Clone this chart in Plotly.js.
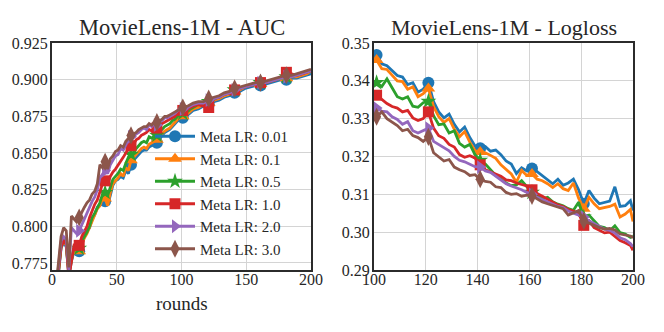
<!DOCTYPE html>
<html>
<head>
<meta charset="utf-8">
<script src="https://cdn.plot.ly/plotly-3.0.1.min.js"></script>
<style>
  html, body { margin: 0; padding: 0; background: #fff; }
  #chart { width: 664px; height: 332px; }
  svg text { font-family: "Liberation Serif", serif !important; }
</style>
</head>
<body>
<div id="chart"></div>
<script>
// rounds: every 2 rounds up to 99, then every 4, then the last one
const aucRounds = [];
for (let r = 1; r < 100; r += 2) aucRounds.push(r);
for (let r = 101; r < 200; r += 4) aucRounds.push(r);
aucRounds.push(200);

const lossRounds = [];
for (let r = 101; r < 200; r += 2) lossRounds.push(r);
lossRounds.push(200);

const seriesNames = ['Meta LR: 0.01', 'Meta LR: 0.1', 'Meta LR: 0.5', 'Meta LR: 1.0', 'Meta LR: 2.0', 'Meta LR: 3.0'];

// AUC
const aucLr001 = [
  0.733, 0.751, 0.770, 0.785, 0.789, 0.786, 0.766, 0.776, 0.783, 0.782,
  0.783, 0.787, 0.793, 0.797, 0.799, 0.805, 0.808, 0.813, 0.815, 0.817,
  0.817, 0.815, 0.821, 0.828, 0.831, 0.832, 0.834, 0.833, 0.838, 0.836,
  0.842, 0.845, 0.847, 0.849, 0.851, 0.852, 0.852, 0.854, 0.855, 0.856,
  0.857, 0.859, 0.862, 0.864, 0.865, 0.866, 0.868, 0.870, 0.872, 0.873,
  0.874, 0.876, 0.879, 0.880, 0.882, 0.883, 0.885, 0.886, 0.888, 0.889,
  0.891, 0.892, 0.894, 0.895, 0.896, 0.896, 0.897, 0.898, 0.899, 0.900,
  0.900, 0.901, 0.901, 0.902, 0.903, 0.904];
const aucLr01 = [
  0.734, 0.752, 0.771, 0.786, 0.790, 0.787, 0.767, 0.777, 0.784, 0.783,
  0.783, 0.788, 0.792, 0.795, 0.799, 0.804, 0.807, 0.812, 0.814, 0.819,
  0.819, 0.814, 0.823, 0.829, 0.831, 0.833, 0.836, 0.834, 0.840, 0.838,
  0.845, 0.847, 0.849, 0.851, 0.853, 0.854, 0.853, 0.856, 0.857, 0.858,
  0.859, 0.861, 0.863, 0.865, 0.866, 0.867, 0.869, 0.871, 0.873, 0.874,
  0.875, 0.877, 0.880, 0.881, 0.883, 0.884, 0.886, 0.887, 0.889, 0.890,
  0.892, 0.893, 0.895, 0.896, 0.897, 0.897, 0.898, 0.899, 0.900, 0.901,
  0.901, 0.902, 0.902, 0.903, 0.904, 0.906];
const aucLr05 = [
  0.735, 0.753, 0.772, 0.787, 0.791, 0.788, 0.768, 0.778, 0.786, 0.784,
  0.785, 0.790, 0.793, 0.796, 0.800, 0.806, 0.809, 0.813, 0.816, 0.822,
  0.823, 0.821, 0.827, 0.832, 0.834, 0.836, 0.839, 0.838, 0.843, 0.847,
  0.849, 0.850, 0.853, 0.855, 0.857, 0.858, 0.857, 0.861, 0.860, 0.862,
  0.862, 0.865, 0.866, 0.868, 0.869, 0.870, 0.872, 0.873, 0.875, 0.876,
  0.877, 0.879, 0.881, 0.883, 0.884, 0.885, 0.887, 0.888, 0.890, 0.891,
  0.893, 0.894, 0.895, 0.896, 0.897, 0.898, 0.898, 0.899, 0.900, 0.901,
  0.902, 0.902, 0.903, 0.904, 0.905, 0.906];
const aucLr1 = [
  0.736, 0.754, 0.772, 0.786, 0.790, 0.788, 0.765, 0.776, 0.787, 0.786,
  0.787, 0.793, 0.797, 0.800, 0.806, 0.811, 0.815, 0.818, 0.823, 0.829,
  0.831, 0.829, 0.834, 0.837, 0.839, 0.842, 0.845, 0.847, 0.850, 0.853,
  0.855, 0.856, 0.859, 0.860, 0.862, 0.863, 0.864, 0.866, 0.865, 0.867,
  0.867, 0.869, 0.870, 0.871, 0.872, 0.873, 0.874, 0.875, 0.877, 0.878,
  0.879, 0.880, 0.882, 0.883, 0.882, 0.881, 0.887, 0.888, 0.890, 0.891,
  0.893, 0.894, 0.895, 0.896, 0.897, 0.898, 0.898, 0.899, 0.900, 0.902,
  0.905, 0.904, 0.903, 0.904, 0.905, 0.906];
const aucLr2 = [
  0.738, 0.756, 0.776, 0.790, 0.793, 0.791, 0.770, 0.799, 0.797, 0.795,
  0.797, 0.801, 0.806, 0.810, 0.813, 0.817, 0.820, 0.825, 0.833, 0.836,
  0.838, 0.836, 0.842, 0.845, 0.848, 0.849, 0.853, 0.852, 0.856, 0.859,
  0.861, 0.861, 0.863, 0.864, 0.866, 0.867, 0.866, 0.869, 0.868, 0.870,
  0.869, 0.871, 0.872, 0.874, 0.874, 0.875, 0.876, 0.877, 0.879, 0.880,
  0.880, 0.881, 0.883, 0.884, 0.884, 0.886, 0.887, 0.888, 0.890, 0.891,
  0.893, 0.894, 0.895, 0.896, 0.897, 0.898, 0.898, 0.899, 0.900, 0.901,
  0.902, 0.902, 0.903, 0.904, 0.905, 0.906];
const aucLr3 = [
  0.740, 0.758, 0.778, 0.793, 0.799, 0.797, 0.772, 0.807, 0.805, 0.803,
  0.806, 0.810, 0.813, 0.816, 0.818, 0.822, 0.824, 0.829, 0.842, 0.840,
  0.844, 0.839, 0.846, 0.848, 0.851, 0.852, 0.855, 0.854, 0.858, 0.860,
  0.862, 0.863, 0.864, 0.866, 0.867, 0.868, 0.868, 0.870, 0.869, 0.871,
  0.871, 0.872, 0.873, 0.875, 0.875, 0.876, 0.877, 0.878, 0.879, 0.880,
  0.881, 0.882, 0.884, 0.885, 0.885, 0.887, 0.888, 0.889, 0.891, 0.892,
  0.894, 0.895, 0.896, 0.897, 0.898, 0.898, 0.899, 0.900, 0.901, 0.902,
  0.903, 0.903, 0.904, 0.905, 0.906, 0.907];

// Logloss (rounds 101..200)
const lossLr001 = [
  0.3468, 0.3445, 0.3440, 0.3428, 0.3414, 0.3410, 0.3390, 0.3395, 0.3370, 0.3378,
  0.3395, 0.3345, 0.3318, 0.3302, 0.3312, 0.3285, 0.3265, 0.3278, 0.3250, 0.3228,
  0.3222, 0.3226, 0.3214, 0.3217, 0.3205, 0.3188, 0.3180, 0.3155, 0.3170, 0.3162,
  0.3168, 0.3160, 0.3150, 0.3140, 0.3128, 0.3140, 0.3124, 0.3130, 0.3140, 0.3112,
  0.3075, 0.3110, 0.3090, 0.3075, 0.3078, 0.3082, 0.3120, 0.3068, 0.3070, 0.3083,
  0.3057];
const lossLr01 = [
  0.3455, 0.3432, 0.3430, 0.3416, 0.3400, 0.3398, 0.3378, 0.3384, 0.3358, 0.3366,
  0.3380, 0.3332, 0.3305, 0.3290, 0.3300, 0.3272, 0.3252, 0.3266, 0.3238, 0.3215,
  0.3212, 0.3210, 0.3203, 0.3195, 0.3178, 0.3165, 0.3154, 0.3132, 0.3163, 0.3150,
  0.3154, 0.3140, 0.3136, 0.3128, 0.3118, 0.3128, 0.3115, 0.3110, 0.3130, 0.3090,
  0.3062, 0.3092, 0.3075, 0.3062, 0.3065, 0.3068, 0.3074, 0.3040, 0.3048, 0.3060,
  0.3028];
const lossLr05 = [
  0.3395, 0.3385, 0.3405, 0.3380, 0.3358, 0.3352, 0.3358, 0.3333, 0.3330, 0.3342,
  0.3346, 0.3308, 0.3284, 0.3286, 0.3262, 0.3268, 0.3235, 0.3225, 0.3232, 0.3205,
  0.3190, 0.3180, 0.3165, 0.3150, 0.3140, 0.3130, 0.3123, 0.3125, 0.3136, 0.3120,
  0.3105, 0.3100, 0.3088, 0.3092, 0.3080, 0.3074, 0.3070, 0.3062, 0.3058, 0.3079,
  0.3040, 0.3045, 0.3030, 0.3015, 0.3012, 0.3004, 0.3017, 0.2999, 0.2995, 0.2986,
  0.2990];
const lossLr1 = [
  0.3362, 0.3350, 0.3340, 0.3332, 0.3328, 0.3318, 0.3322, 0.3302, 0.3295, 0.3300,
  0.3318, 0.3275, 0.3255, 0.3248, 0.3232, 0.3225, 0.3205, 0.3198, 0.3202, 0.3196,
  0.3178, 0.3165, 0.3160, 0.3155, 0.3148, 0.3138, 0.3136, 0.3130, 0.3126, 0.3122,
  0.3112, 0.3102, 0.3095, 0.3088, 0.3080, 0.3072, 0.3068, 0.3060, 0.3056, 0.3050,
  0.3018, 0.3030, 0.3012, 0.3005, 0.2998, 0.3000, 0.2990, 0.2978, 0.2972, 0.2965,
  0.2952];
const lossLr2 = [
  0.3328, 0.3320, 0.3318, 0.3305, 0.3298, 0.3285, 0.3292, 0.3268, 0.3262, 0.3268,
  0.3275, 0.3240, 0.3232, 0.3222, 0.3215, 0.3200, 0.3190, 0.3186, 0.3180, 0.3173,
  0.3172, 0.3162, 0.3158, 0.3148, 0.3140, 0.3128, 0.3122, 0.3118, 0.3112, 0.3105,
  0.3100, 0.3092, 0.3086, 0.3080, 0.3076, 0.3068, 0.3065, 0.3056, 0.3050, 0.3045,
  0.3040, 0.3030, 0.3022, 0.3015, 0.3008, 0.3005, 0.2998, 0.2985, 0.2980, 0.2970,
  0.2962];
const lossLr3 = [
  0.3305, 0.3318, 0.3300, 0.3290, 0.3282, 0.3268, 0.3272, 0.3255, 0.3250, 0.3240,
  0.3252, 0.3210, 0.3198, 0.3188, 0.3192, 0.3172, 0.3165, 0.3160, 0.3150, 0.3152,
  0.3140, 0.3134, 0.3132, 0.3120, 0.3118, 0.3105, 0.3100, 0.3102, 0.3095, 0.3098,
  0.3096, 0.3088, 0.3080, 0.3075, 0.3070, 0.3065, 0.3062, 0.3045, 0.3052, 0.3057,
  0.3030, 0.3025, 0.3018, 0.3012, 0.3008, 0.3010, 0.3006, 0.2995, 0.2992, 0.2990,
  0.2985];

const aucSeries = [aucLr001, aucLr01, aucLr05, aucLr1, aucLr2, aucLr3];
const lossSeries = [lossLr001, lossLr01, lossLr05, lossLr1, lossLr2, lossLr3];

const colors = ['#1f77b4', '#ff7f0e', '#2ca02c', '#d62728', '#9467bd', '#8c564b'];
const symbols = ['circle', 'triangle-up', 'star', 'square', 'triangle-right', 'diamond-tall'];
const markerSizes = [12, 12, 12, 11, 12, 13];

const FONT = 'Liberation Serif';

// marker every 20 rounds, like matplotlib's markevery
const isMarkRound = r => (r - 1) % 20 === 0;

const buildTraces = (rounds, series, xa, ya) => {
  const traces = [];
  series.forEach((ys, i) => {
    traces.push({
      x: rounds, y: ys, xaxis: xa, yaxis: ya, type: 'scatter', mode: 'lines',
      line: {color: colors[i], width: 2.8}, showlegend: false, hoverinfo: 'skip'
    });
    const mx = [], my = [];
    rounds.forEach((r, k) => {
      if (isMarkRound(r)) { mx.push(r); my.push(ys[k]); }
    });
    traces.push({
      x: mx, y: my, xaxis: xa, yaxis: ya, type: 'scatter', mode: 'markers',
      marker: {color: colors[i], symbol: symbols[i], size: markerSizes[i]},
      showlegend: false, hoverinfo: 'skip'
    });
  });
  return traces;
};

const legendTraces = seriesNames.map((name, i) => ({
  x: [null], y: [null], xaxis: 'x', yaxis: 'y', type: 'scatter', mode: 'lines+markers',
  name: name, line: {color: colors[i], width: 2.8},
  marker: {color: colors[i], symbol: symbols[i], size: markerSizes[i]}
}));

const data = [
  ...buildTraces(aucRounds, aucSeries, 'x', 'y'),
  ...buildTraces(lossRounds, lossSeries, 'x2', 'y2'),
  ...legendTraces
];

const W = 664, H = 332;
const px = v => v / W;
const py = v => (H - v) / H;

const axisBase = {
  showline: true, mirror: true, linecolor: '#2b2b2b', linewidth: 2,
  showgrid: true, gridcolor: '#d4d4d4', gridwidth: 1,
  zeroline: false, ticks: '', ticklen: 0,
  tickfont: {family: FONT, size: 16, color: '#262626'}
};
const xAxisBase = {...axisBase, ticklabelstandoff: -6};
const yAxisBase = {...axisBase, ticklabelstandoff: -1};

const layout = {
  width: W, height: H,
  margin: {l: 0, r: 0, t: 0, b: 0},
  paper_bgcolor: '#fff', plot_bgcolor: '#fff',
  font: {family: FONT, color: '#262626'},
  xaxis: {...xAxisBase, domain: [px(52), px(311)], range: [0, 200], tickvals: [0, 50, 100, 150, 200], anchor: 'y'},
  yaxis: {...yAxisBase, domain: [py(270), py(43)], range: [0.7702, 0.925],
          tickvals: [0.775, 0.8, 0.825, 0.85, 0.875, 0.9, 0.925], tickformat: '.3f', anchor: 'x'},
  xaxis2: {...xAxisBase, domain: [px(374), px(633)], range: [100, 200], tickvals: [100, 120, 140, 160, 180, 200], anchor: 'y2'},
  yaxis2: {...yAxisBase, domain: [py(270), py(43)], range: [0.29, 0.35],
           tickvals: [0.29, 0.30, 0.31, 0.32, 0.33, 0.34, 0.35], tickformat: '.2f', anchor: 'x2'},
  legend: {
    x: px(150), y: py(120), xanchor: 'left', yanchor: 'top',
    bgcolor: 'rgba(0,0,0,0)', borderwidth: 0, itemwidth: 40,
    font: {family: FONT, size: 15, color: '#262626'}, tracegroupgap: 0
  },
  annotations: [
    {text: 'MovieLens-1M - AUC', x: px(181.5), y: py(27), xref: 'paper', yref: 'paper',
     showarrow: false, xanchor: 'center', yanchor: 'middle', font: {family: FONT, size: 22.5, color: '#262626'}},
    {text: 'MovieLens-1M - Logloss', x: px(503.5), y: py(27), xref: 'paper', yref: 'paper',
     showarrow: false, xanchor: 'center', yanchor: 'middle', font: {family: FONT, size: 22, color: '#262626'}},
    {text: 'rounds', x: px(181.5), y: py(303), xref: 'paper', yref: 'paper',
     showarrow: false, xanchor: 'center', yanchor: 'middle', font: {family: FONT, size: 19, color: '#262626'}}
  ]
};

Plotly.newPlot('chart', data, layout, {staticPlot: true});
</script>
</body>
</html>
